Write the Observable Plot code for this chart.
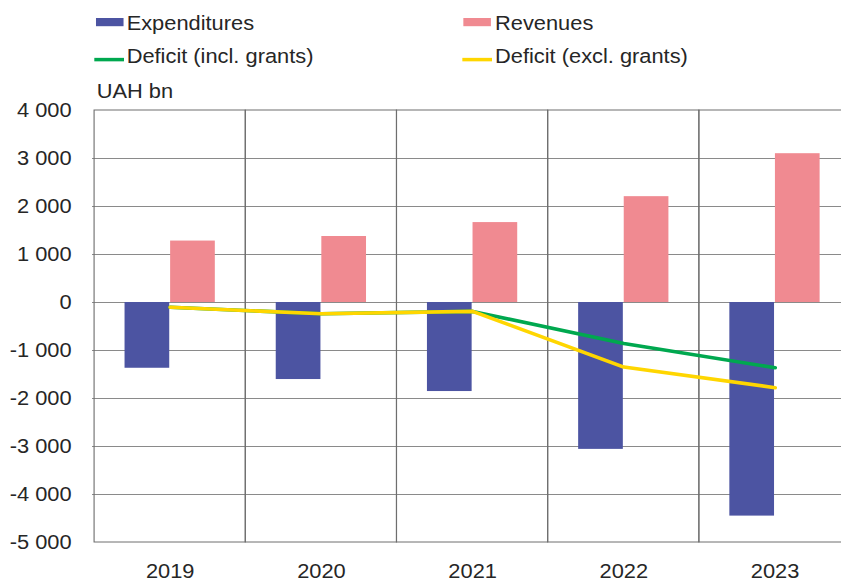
<!DOCTYPE html>
<html>
<head>
<meta charset="utf-8">
<script src="https://cdn.jsdelivr.net/npm/d3@7"></script>
<script src="https://cdn.jsdelivr.net/npm/@observablehq/plot@0.6"></script>
<style>
  html, body { margin: 0; padding: 0; background: #fff; overflow: hidden; }
  #wrap { width: 751px; transform: scaleX(1.12); transform-origin: 0 0;
          font-family: "Liberation Sans", Arial, sans-serif; color: #262626; }
  #wrap svg { display: block; }
</style>
</head>
<body>
<div id="wrap"></div>
<script>
// ---- data ----
const years = ["2019", "2020", "2021", "2022", "2023"];
const expenditures = [-1370, -1605, -1855, -3060, -4450];
const revenues = [1280, 1375, 1665, 2205, 3100];
const deficitIncl = [-100, -235, -185, -855, -1360];
const deficitExcl = [-100, -235, -185, -1345, -1775];
const yTicks = [-5000, -4000, -3000, -2000, -1000, 0, 1000, 2000, 3000, 4000];
const seriesNames = ["Expenditures", "Revenues", "Deficit (incl. grants)", "Deficit (excl. grants)"];
const unitLabel = "UAH bn";

// ---- styles ----
const C = { exp: "#4c54a2", rev: "#f08a91", incl: "#00a84f", excl: "#ffd600", text: "#262626" };
const FONT = "Liberation Sans, Arial, sans-serif";
const FS = 19.5;

const table = years.map((year, i) => ({
  year, expenditures: expenditures[i], revenues: revenues[i],
  deficitIncl: deficitIncl[i], deficitExcl: deficitExcl[i]
}));

const fmt = d => (d < 0 ? "-" : "") + d3.format(",")(Math.abs(d)).replace(/,/g, " ");

// ---- legend (above the plot) ----
const W = 751;
const LH = 104;
const legend = d3.create("svg").attr("width", W).attr("height", LH)
  .style("font-family", FONT).style("font-size", FS + "px");
const legendItems = [
  { name: seriesNames[0], kind: "rect", color: C.exp, sx: 85.7, tx: 113.1, base: 30 },
  { name: seriesNames[1], kind: "rect", color: C.rev, sx: 413.7, tx: 442, base: 30 },
  { name: seriesNames[2], kind: "line", color: C.incl, sx: 84.2, tx: 113.1, base: 63.3 },
  { name: seriesNames[3], kind: "line", color: C.excl, sx: 412.8, tx: 442, base: 63.3 }
];
for (const it of legendItems) {
  if (it.kind === "rect") {
    legend.append("rect").attr("x", it.sx).attr("y", it.base - 12).attr("width", 24.6).attr("height", 8.2)
      .attr("fill", it.color);
  } else {
    legend.append("line").attr("x1", it.sx).attr("x2", it.sx + 26.5)
      .attr("y1", it.base - 3.7).attr("y2", it.base - 3.7)
      .attr("stroke", it.color).attr("stroke-width", 3.5);
  }
  legend.append("text").attr("x", it.tx).attr("y", it.base).attr("fill", C.text).text(it.name);
}
legend.append("text").attr("x", 86.3).attr("y", 98.3).attr("fill", C.text).text(unitLabel);

// ---- plot ----
const x0 = 82.14, x1 = 760.7;
const chart = Plot.plot({
  width: W, height: 477,
  marginTop: 6, marginBottom: 39, marginLeft: x0, marginRight: 0,
  style: { fontFamily: FONT, fontSize: FS + "px", color: C.text, background: "transparent", overflow: "visible" },
  x: { type: "band", domain: years, range: [x0, x1], padding: 0 },
  y: { domain: [yTicks[0], yTicks[yTicks.length - 1]] },
  marks: [
    Plot.ruleY(yTicks.slice(1, -1), { stroke: "#8a8a8a", strokeWidth: 1 }),
    Plot.barY(years, { x: d => d, y1: yTicks[0], y2: yTicks[yTicks.length - 1], fill: "none", stroke: "#6e6e6e", strokeWidth: 1 }),
    Plot.barY(table, { x: "year", y: "expenditures", fill: C.exp, insetLeft: 27.2, insetRight: 67.9 }),
    Plot.barY(table, { x: "year", y: "revenues", fill: C.rev, insetLeft: 67.9, insetRight: 27.2 }),
    Plot.line(table, { x: "year", y: "deficitIncl", stroke: C.incl, strokeWidth: 3.6 }),
    Plot.line(table, { x: "year", y: "deficitExcl", stroke: C.excl, strokeWidth: 3.6 }),
    Plot.axisY(yTicks, { tickSize: 0, tickPadding: 18.7, tickFormat: fmt, label: null, fill: C.text }),
    Plot.axisX(years, { tickSize: 0, tickPadding: 21.2, label: null, fill: C.text })
  ]
});

const wrap = document.getElementById("wrap");
wrap.appendChild(legend.node());
wrap.appendChild(chart);
</script>
</body>
</html>
